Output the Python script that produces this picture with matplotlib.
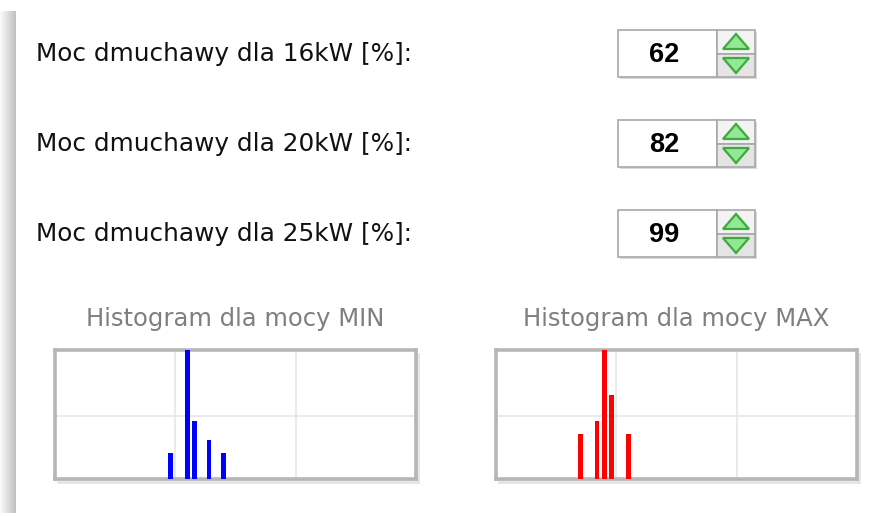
import numpy as np
import matplotlib
matplotlib.use("Agg")
import matplotlib.pyplot as plt
from matplotlib.patches import Rectangle, Polygon

W, H = 888, 516

# form rows
labels = ["Moc dmuchawy dla 16kW [%]:",
          "Moc dmuchawy dla 20kW [%]:",
          "Moc dmuchawy dla 25kW [%]:"]
values = [62, 82, 99]

# histograms
hist_titles = ["Histogram dla mocy MIN", "Histogram dla mocy MAX"]
min_bins = [48, 55, 58, 64, 70]
min_counts = [4, 20, 9, 6, 4]
max_bins = [35, 42, 45, 48, 55]
max_counts = [7, 9, 20, 13, 7]


def draw_spinner(ax, x, y, value):
    w_field, w_btn, h = 99, 38, 47
    # shadow
    ax.add_patch(Rectangle((x + 2, y + 2), w_field + w_btn, h,
                           facecolor="#dadada", edgecolor="none", zorder=1))
    ax.add_patch(Rectangle((x, y), w_field, h, facecolor="white",
                           edgecolor="#a8a8a8", lw=1.2, zorder=2))
    bx = x + w_field
    ax.add_patch(Rectangle((bx, y), w_btn, h / 2, facecolor="#f3f3f3",
                           edgecolor="#a8a8a8", lw=1.2, zorder=2))
    ax.add_patch(Rectangle((bx, y + h / 2), w_btn, h / 2, facecolor="#e4e4e4",
                           edgecolor="#a8a8a8", lw=1.2, zorder=2))
    # arrows
    cx = bx + w_btn / 2
    up = [(cx - 13, y + 19), (cx + 13, y + 19), (cx, y + 4)]
    dn = [(cx - 13, y + 28), (cx + 13, y + 28), (cx, y + 43)]
    for pts in (up, dn):
        ax.add_patch(Polygon(pts, closed=True, facecolor="#93e893",
                             edgecolor="#3daa3d", lw=1.6, zorder=3))
    ax.text(x + w_field / 2 - 3, y + h / 2 + 1, str(value), ha="center",
            va="center", fontsize=19.5, fontweight="bold",
            family="Liberation Sans", color="black", zorder=4)


def draw_hist(fig, ax_bg, left, top, bins, counts, color, title):
    w, h = 361, 129
    ax_bg.add_patch(Rectangle((left + 2, top + 3), w + 2, h + 2,
                              facecolor="#e6e6e6", edgecolor="none", zorder=1))
    ax_bg.text(left + w / 2, top - 31, title, ha="center", va="center",
               fontsize=17.5, color="#7f7f7f", family="DejaVu Sans")
    ax = fig.add_axes([left / W, (H - top - h) / H, w / W, h / H])
    ax.bar(bins, counts, width=2.0, color=color, zorder=3)
    ax.set_xlim(0, 150)
    ax.set_ylim(0, 20)
    ax.set_xticks([50, 100])
    ax.set_yticks([9.7])
    ax.grid(True, color="#e6e6e6", lw=1.2, zorder=0)
    ax.tick_params(length=0, labelbottom=False, labelleft=False)
    for s in ax.spines.values():
        s.set_color("#b6b6b6")
        s.set_linewidth(2.6)
    return ax


fig = plt.figure(figsize=(W / 100, H / 100), dpi=100)
ax = fig.add_axes([0, 0, 1, 1])
ax.set_xlim(0, W)
ax.set_ylim(H, 0)
ax.axis("off")

# left page border with gradient
grad = np.linspace(0.98, 0.76, 15)[None, :].repeat(2, axis=0)
ax.imshow(grad, cmap="gray", vmin=0, vmax=1, extent=(0, 15, 513, 11),
          aspect="auto", zorder=0)

row_y = [30, 120, 210]
for lab, val, y in zip(labels, values, row_y):
    ax.text(36, y + 24, lab, ha="left", va="center", fontsize=17.8,
            family="DejaVu Sans", color="#111111")
    draw_spinner(ax, 618, y, val)

draw_hist(fig, ax, 55, 350, min_bins, min_counts, "#0000ff", hist_titles[0])
draw_hist(fig, ax, 496, 350, max_bins, max_counts, "#ff0000", hist_titles[1])

fig.savefig("out.png", dpi=100)
